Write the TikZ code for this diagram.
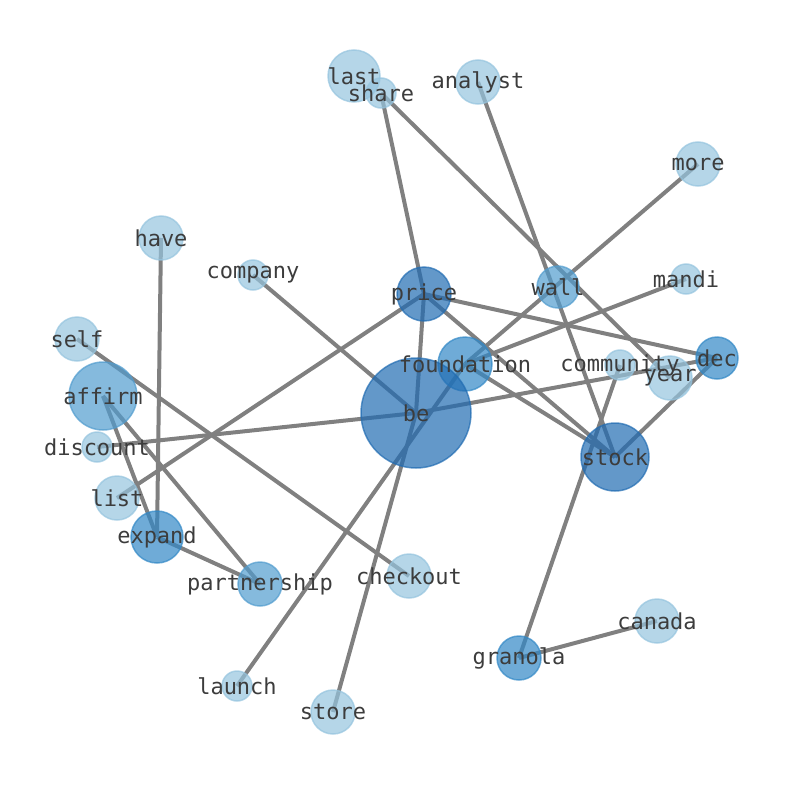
\documentclass[tikz,border=0pt]{standalone}
\usepackage{fontspec}
\newfontfamily\rotulofonte{DejaVu Sans Mono}
\usetikzlibrary{backgrounds}

\definecolor{azulA}{RGB}{33,108,178}
\definecolor{azulB}{RGB}{50,136,198}
\definecolor{azulC}{RGB}{81,156,206}
\definecolor{azulD}{RGB}{149,196,222}
\definecolor{arestacinza}{RGB}{128,128,128}
\definecolor{textocinza}{RGB}{60,60,60}

\begin{document}
\begin{tikzpicture}[x=1bp, y=-1bp,
	bolha/.style={circle, inner sep=0pt, fill=#1, draw=#1, fill opacity=0.7, draw opacity=0.7, line width=1.5bp},
	rotulo/.style={font=\rotulofonte\fontsize{22bp}{26bp}\selectfont, text=textocinza, inner sep=0pt},
	aresta/.style={draw=arestacinza, line width=4bp}]

			\useasboundingbox (0,0) rectangle (794,790);

			% Bolhas (nome/x/y/diametro/cor)
			\foreach \nome/\x/\y/\d/\cor in {
				last/354/76/52/azulD, share/381/93/30/azulD, analyst/478/82/44/azulD,
				more/698/164/44/azulD, have/161/238/44/azulD, company/253/275/30/azulD,
				price/424/294/54/azulA, wall/558/287/42/azulC, mandi/686/279/30/azulD,
				self/77/339/44/azulD, foundation/465/364/54/azulB, dec/717/358/42/azulB,
				community/620/365/30/azulD, year/670/378/44/azulD, affirm/103/396/68/azulC,
				be/416/413/110/azulA, discount/97/447/30/azulD, stock/615/457/68/azulA,
				list/117/498/44/azulD, expand/157/537/52/azulB, partnership/260/584/44/azulC,
				checkout/409/576/44/azulD, canada/657/621/44/azulD, granola/519/658/44/azulB,
				launch/237/686/30/azulD, store/333/712/44/azulD} {
				\node[bolha=\cor, minimum size=\d bp] (\nome) at (\x,\y) {};
			}

			% Arestas
			\begin{scope}[on background layer]
				\foreach \a/\b in {share/price, share/year, analyst/stock, more/foundation,
					have/expand, company/be, price/be, price/dec, price/stock, price/list,
					mandi/foundation, self/checkout, discount/be, be/dec, foundation/stock,
					community/granola, stock/dec, canada/granola, launch/foundation,
					store/be, affirm/expand, affirm/partnership, expand/partnership} {
					\draw[aresta] (\a.center) -- (\b.center);
				}
			\end{scope}

			% Rotulos
			\foreach \nome in {last, share, analyst, more, have, company, price, wall,
				mandi, self, foundation, dec, community, year, affirm, be, discount,
				stock, list, expand, partnership, checkout, canada, granola, launch, store} {
				\node[rotulo] at (\nome.center) {\nome};
			}

		\end{tikzpicture}
\end{document}
